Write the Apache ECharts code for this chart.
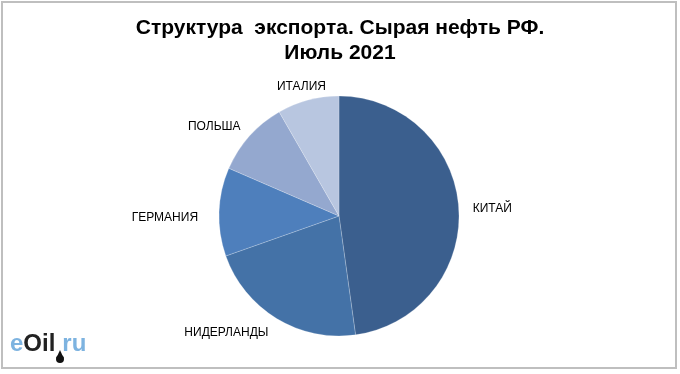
<!DOCTYPE html>
<html>
<head>
<meta charset="utf-8">
<script src="https://cdn.jsdelivr.net/npm/echarts@6/dist/echarts.min.js"></script>
<style>
html,body{margin:0;padding:0;background:#fff;}
#chart{width:680px;height:374px;}
</style>
</head>
<body>
<div id="chart"></div>
<script>
const categories = ['КИТАЙ', 'НИДЕРЛАНДЫ', 'ГЕРМАНИЯ', 'ПОЛЬША', 'ИТАЛИЯ'];
const values = [47.8, 21.8, 11.9, 10.2, 8.3];
const colors = ['#3B5F8E', '#4472A7', '#4E7FBC', '#94A8CF', '#B8C6E0'];

const labelShift = {'КИТАЙ': [0, 2], 'НИДЕРЛАНДЫ': [0, 4], 'ГЕРМАНИЯ': [-7, 6], 'ИТАЛИЯ': [23, -2], 'ПОЛЬША': [2, -1]};

const chart = echarts.init(document.getElementById('chart'), null, {renderer: 'canvas'});
chart.setOption({
  animation: false,
  backgroundColor: '#fff',
  title: {
    text: 'Структура  экспорта. Сырая нефть РФ.\nИюль 2021',
    left: 'center',
    top: 11,
    textStyle: {
      fontFamily: 'Liberation Sans, Arial, sans-serif',
      fontSize: 21,
      fontWeight: 'bold',
      color: '#000',
      lineHeight: 25
    }
  },
  graphic: [
    {
      type: 'rect',
      shape: {x: 2, y: 2, width: 674, height: 366},
      style: {fill: 'none', stroke: '#BFBFBF', lineWidth: 2},
      silent: true
    },
    {
      type: 'text',
      x: 10,
      y: 332,
      style: {
        text: '{a|e}{b|Oil}{g|}{a|ru}',
        rich: {
          a: {fontFamily: 'Liberation Sans, Arial, sans-serif', fontSize: 24, fontWeight: 'bold', fill: '#7DB3E0'},
          b: {fontFamily: 'Liberation Sans, Arial, sans-serif', fontSize: 24, fontWeight: 'bold', fill: '#222'},
          g: {width: 7}
        }
      },
      silent: true
    },
    {
      type: 'polygon',
      shape: {points: [[60, 350], [56.4, 358], [63.6, 358]]},
      style: {fill: '#111'},
      silent: true
    },
    {
      type: 'circle',
      shape: {cx: 60, cy: 359, r: 4},
      style: {fill: '#111'},
      silent: true
    }
  ],
  series: [{
    type: 'pie',
    center: [339, 216],
    radius: 120,
    startAngle: 90,
    clockwise: true,
    data: categories.map((c, i) => ({name: c, value: values[i], itemStyle: {color: colors[i]}})),
    itemStyle: {borderColor: 'rgba(255,255,255,0.35)', borderWidth: 0.6},
    label: {
      show: true,
      position: 'outside',
      formatter: '{b}',
      fontFamily: 'Liberation Sans, Arial, sans-serif',
      fontSize: 12,
      color: '#000',
      distanceToLabelLine: 2
    },
    labelLine: {show: false, length: 12, length2: 0},
    labelLayout: function (p) {
      const s = labelShift[p.text];
      return s ? {dx: s[0], dy: s[1]} : {};
    },
    emphasis: {disabled: true}
  }]
});
</script>
</body>
</html>
